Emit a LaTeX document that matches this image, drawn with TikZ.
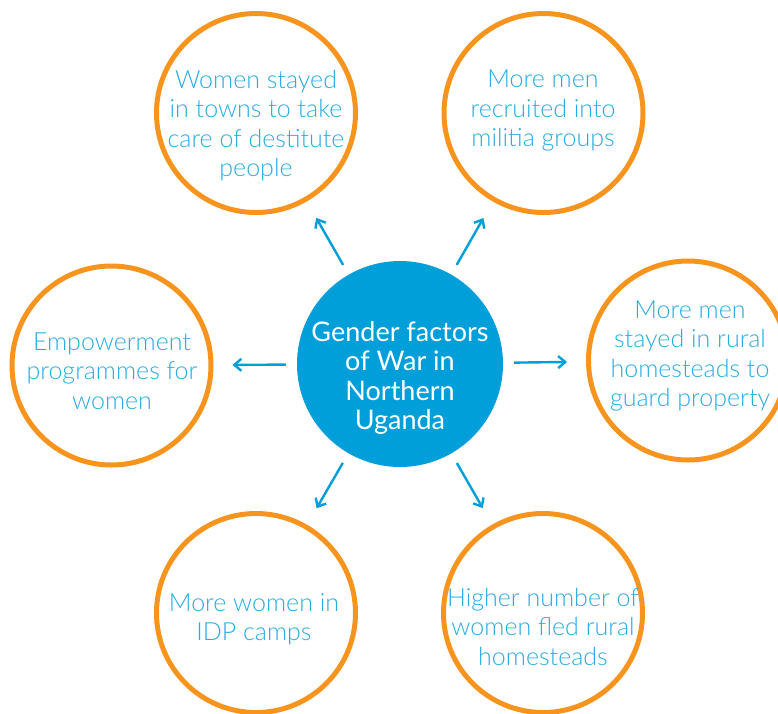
\documentclass[tikz,border=0pt]{standalone}
\usepackage{fontspec}
\setmainfont{Lato}
\newfontfamily\lightfont{Lato Light}
\usetikzlibrary{arrows.meta}
\definecolor{orng}{HTML}{F7941D}
\definecolor{cblue}{HTML}{009FDA}
\definecolor{tblue}{HTML}{29ABE2}
\tikzset{
  outer/.style={circle, draw=orng, line width=5pt, minimum size=199pt, inner sep=0pt},
  core/.style={circle, fill=cblue, minimum size=206pt, inner sep=0pt},
  otext/.style={text=tblue, font=\lightfont\fontsize{25}{29.5}\selectfont, align=center, inner sep=0pt},
  ctext/.style={text=white, font=\fontsize{27}{29.5}\selectfont, align=center, inner sep=0pt},
  arr/.style={draw=cblue, line width=2.4pt, -{Straight Barb[length=7pt,width=12pt]}, shorten <=11pt, shorten >=19pt}
}
\begin{document}
\begin{tikzpicture}[x=1pt,y=-1pt]
\useasboundingbox (0,0) rectangle (778,713);
\clip (0,0) rectangle (778,713);
% circles
\node[core]  (c)  at (400,364) {};
\node[outer] (tl) at (256,113) {};
\node[outer] (tr) at (543.5,113) {};
\node[outer] (l)  at (111.5,365.5) {};
\node[outer] (r)  at (688,360.5) {};
\node[outer] (bl) at (256,613) {};
\node[outer] (br) at (543,613) {};
% texts
\node[ctext] (ct)  at (400,378) {Gender factors\\of War in\\Northern\\Uganda};
\node[otext] (tlt) at (256,125.5) {Women stayed\\in towns to take\\care of destitute\\people};
\node[otext] (trt) at (543,110.5) {More men\\recruited into\\militia groups};
\node[otext] (lt)  at (112,371) {Empowerment\\programmes for\\women};
\node[otext] (rt)  at (690,356) {More men\\stayed in rural\\homesteads to\\guard property};
\node[otext] (blt) at (254,619.5) {More women in\\IDP camps};
\node[otext] (brt) at (543,626.5) {Higher number of\\women fled rural\\homesteads};
% arrows
\draw[arr] (c) -- (tl);
\draw[arr] (c) -- (tr);
\draw[arr] (c) -- (l);
\draw[arr] (c) -- (r);
\draw[arr] (c) -- (bl);
\draw[arr] (c) -- (br);
\end{tikzpicture}
\end{document}
